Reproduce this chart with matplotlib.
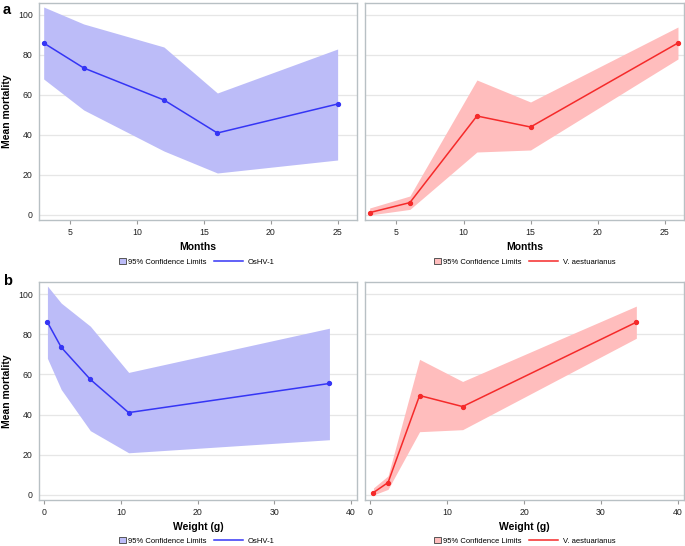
import numpy as np
import matplotlib
matplotlib.use('Agg')
import matplotlib.pyplot as plt
from matplotlib.patches import Patch
from matplotlib.lines import Line2D

plt.rcParams['font.family'] = ['Liberation Sans', 'DejaVu Sans']

# OsHV-1 data
oshv_months = [3, 6, 12, 16, 25]
oshv_weight = [0.4, 2.2, 6.0, 11.0, 37.2]
oshv_mean = [86, 73.5, 57.5, 41, 55.5]
oshv_upper = [104, 95.5, 84, 61, 83]
oshv_lower = [68, 52.5, 32, 21, 27.5]

# V. aestuarianus data
vae_months = [3, 6, 11, 15, 26]
vae_weight = [0.4, 2.3, 6.4, 12.0, 34.6]
vae_mean = [1.2, 6.2, 49.5, 44, 86]
vae_upper = [3.5, 9.5, 67.5, 56.5, 94]
vae_lower = [0, 2.8, 31.5, 32.5, 78]

blue_fill = '#bcbcf8'
blue_line = '#3535f5'
red_fill = '#ffbdbd'
red_line = '#f52a2a'
frame_col = '#b8c0c4'

fig = plt.figure(figsize=(6.85, 5.46), dpi=100)

W, H = 685.0, 546.0
def add_ax(x0, x1, ytop, ybot):
    return fig.add_axes([x0 / W, 1 - ybot / H, (x1 - x0) / W, (ybot - ytop) / H])

axes = {
    ('a', 0): add_ax(39, 357, 3, 220),
    ('a', 1): add_ax(365, 684, 3, 220),
    ('b', 0): add_ax(39, 357, 282, 500),
    ('b', 1): add_ax(365, 684, 282, 500),
}

panels = [
    ('a', 0, oshv_months, oshv_mean, oshv_lower, oshv_upper, blue_fill, blue_line, 'OsHV-1'),
    ('a', 1, vae_months, vae_mean, vae_lower, vae_upper, red_fill, red_line, 'V. aestuarianus'),
    ('b', 0, oshv_weight, oshv_mean, oshv_lower, oshv_upper, blue_fill, blue_line, 'OsHV-1'),
    ('b', 1, vae_weight, vae_mean, vae_lower, vae_upper, red_fill, red_line, 'V. aestuarianus'),
]

# legend y (px from top) per row, patch / line x (px) per column
leg_y = {'a': 262, 'b': 541}
leg_x = {0: (119, 214), 1: (434, 529)}

for row, col, x, m, lo, hi, fc, lc, name in panels:
    ax = axes[(row, col)]
    ax.fill_between(x, lo, hi, color=fc, lw=0, zorder=2)
    ax.plot(x, m, color=lc, lw=1.1, marker='o', ms=2.8, zorder=3)
    ax.set_ylim(-2.5, 106)
    ax.set_yticks([0, 20, 40, 60, 80, 100])
    ax.grid(axis='y', color='#e6e6e6', lw=0.9, zorder=1)
    ax.set_axisbelow(True)
    for s in ax.spines.values():
        s.set_color(frame_col)
        s.set_linewidth(1.0)
    ax.tick_params(axis='x', colors='#999999', labelcolor='#222222', labelsize=6.3,
                   length=3, width=0.8, pad=2.5)
    ax.tick_params(axis='y', labelcolor='#222222', labelsize=6.3, length=0, pad=4.5)
    if row == 'a':
        ax.set_xlim(2.65, 26.45)
        ax.set_xticks([5, 10, 15, 20, 25])
        ax.set_xlabel('Months', fontsize=7.5, fontweight='bold', labelpad=4)
    else:
        ax.set_xlim(-0.7, 40.8)
        ax.set_xticks([0, 10, 20, 30, 40])
        ax.set_xlabel('Weight (g)', fontsize=7.5, fontweight='bold', labelpad=3.5)
    if col == 0:
        ax.set_ylabel('Mean mortality', fontsize=7.5, fontweight='bold')
        ax.yaxis.set_label_coords((12 - 39) / 318.0, 0.5)
    else:
        ax.tick_params(axis='y', left=False, labelleft=False)

    yl = 1 - leg_y[row] / H
    px, lx = leg_x[col]
    l1 = fig.legend([Patch(facecolor=fc, edgecolor='#555555', lw=0.7)],
                    ['95% Confidence Limits'], loc='center left',
                    bbox_to_anchor=(px / W, yl), frameon=False, fontsize=5.5,
                    handlelength=0.9, handleheight=0.9, handletextpad=0.3,
                    borderpad=0, borderaxespad=0)
    l2 = fig.legend([Line2D([0], [0], color=lc, lw=1.1)], [name],
                    loc='center left', bbox_to_anchor=(lx / W, yl), frameon=False,
                    fontsize=5.5, handlelength=3.8, handletextpad=0.6,
                    borderpad=0, borderaxespad=0)

fig.text(3 / W, 1 - 13.5 / H, 'a', fontsize=10.5, fontweight='bold', ha='left', va='baseline')
fig.text(3 / W, 1 - 285 / H, 'b', fontsize=10.5, fontweight='bold', ha='left', va='baseline')

fig.savefig('out.png', dpi=100)
